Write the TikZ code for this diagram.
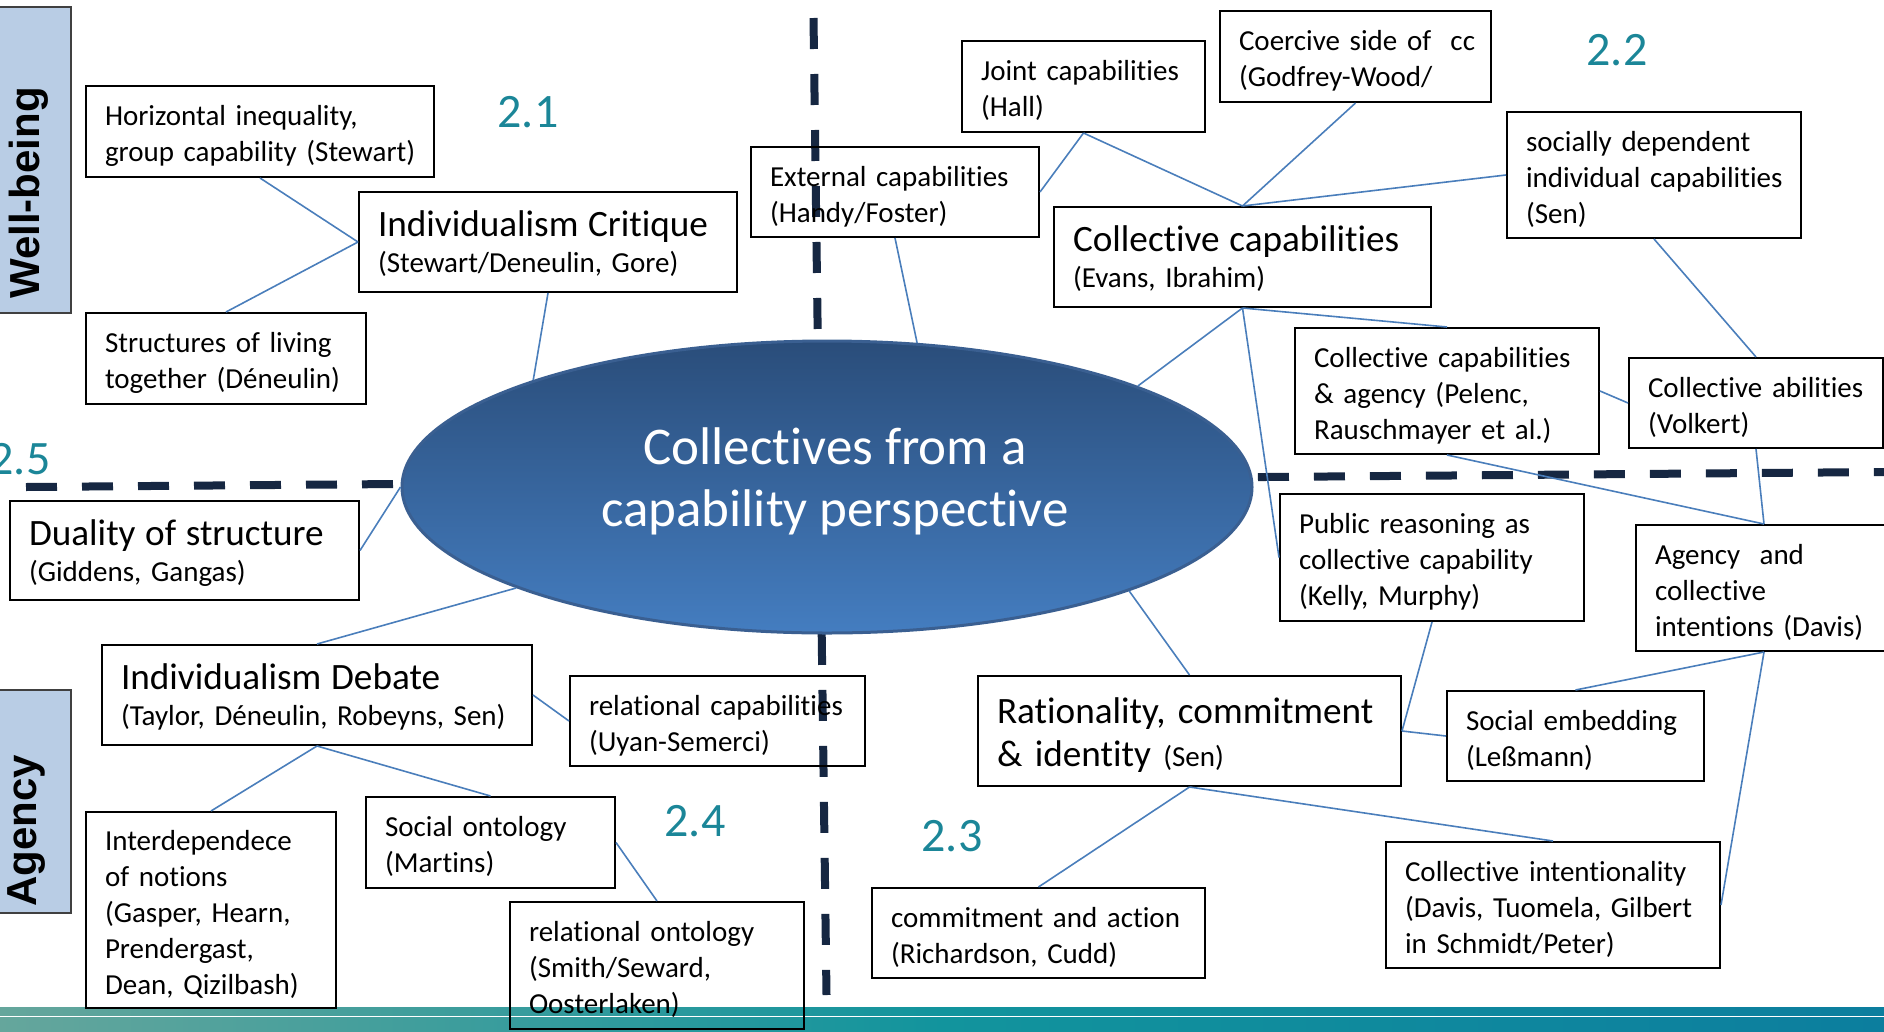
\documentclass[tikz,border=0pt]{standalone}
\usepackage{fontspec}
\setmainfont{Carlito}[Ligatures={TeX,NoCommon}]
\newfontfamily\lsans{Liberation Sans}
\usetikzlibrary{shapes.geometric}
\pgfdeclarelayer{bg}
\pgfsetlayers{bg,main}

\definecolor{linkc}{RGB}{74,126,187}
\definecolor{dashc}{RGB}{22,39,66}
\definecolor{labc}{RGB}{27,134,152}
\definecolor{ellTop}{RGB}{42,77,122}
\definecolor{ellBot}{RGB}{68,125,192}
\definecolor{ellBd}{RGB}{58,95,145}
\definecolor{sideFill}{RGB}{185,205,229}
\definecolor{sideBd}{RGB}{64,64,64}
\definecolor{stripeL}{RGB}{101,166,156}
\definecolor{stripeM}{RGB}{18,148,157}
\definecolor{stripeR}{RGB}{12,126,158}

\newcommand\bigt{\fontsize{37.2}{43}\selectfont}
\newcommand\smt{\fontsize{29}{36}\selectfont}
\newcommand\lns[1]{\raisebox{-5pt}[\height][\depth]{\begin{tabular}{@{}l@{}}#1\end{tabular}}}

\tikzset{
  box/.style={draw=black, line width=2pt, inner xsep=19pt, inner ysep=0pt, align=left, font=\smt},
  link/.style={draw=linkc, line width=1.6pt},
  sec/.style={text=labc, font=\fontsize{48}{50}\selectfont, inner sep=0pt},
  dashln/.style={draw=dashc, line width=8pt, dash pattern=on 31pt off 25pt},
  sidebox/.style={fill=sideFill, draw=sideBd, line width=2.5pt, inner sep=0pt},
  sidetext/.style={rotate=90, font=\lsans\bfseries\fontsize{42}{44}\selectfont, inner sep=0pt},
}

\begin{document}
\begin{tikzpicture}[x=1pt,y=-1pt]
\useasboundingbox (0,0) rectangle (1884,1031);
\clip (0,0) rectangle (1884,1031);

% side labels
\node[sidebox, minimum width=73pt, minimum height=306pt] (wb) at (34.5,160) {};
\node[sidetext] (wbt) at (29,193) {Well-being};
\node[sidebox, minimum width=73pt, minimum height=223pt] (agb) at (34.5,801.5) {};
\node[sidetext] (agt) at (27,831) {Agency};

% boxes
\node[box, minimum width=348pt, minimum height=91pt, text width=310pt] (hi) at (260,131.5)
  {\lns{Horizontal inequality,\\group capability (Stewart)}};
\node[box, minimum width=378pt, minimum height=100pt, text width=340pt] (ic) at (548,242)
  {\lns{{\bigt Individualism Critique}\\(Stewart/Deneulin, Gore)}};
\node[box, minimum width=280pt, minimum height=91pt, text width=242pt] (st) at (226,358.5)
  {\lns{Structures of living\\together (Déneulin)}};
\node[box, minimum width=288pt, minimum height=90pt, text width=250pt] (ec) at (895,192)
  {\lns{External capabilities\\(Handy/Foster)}};
\node[box, minimum width=243pt, minimum height=91pt, text width=205pt] (jc) at (1083.5,86.5)
  {\lns{Joint capabilities\\(Hall)}};
\node[box, minimum width=271pt, minimum height=91pt, text width=233pt] (co) at (1355.5,56.5)
  {\lns{Coercive side of~~cc\\(Godfrey-Wood/}};
\node[box, minimum width=294pt, minimum height=126pt, text width=256pt] (sd) at (1654,175)
  {\lns{socially dependent\\individual capabilities\\(Sen)}};
\node[box, minimum width=377pt, minimum height=100pt, text width=339pt] (cc) at (1242.5,257)
  {\lns{{\bigt Collective capabilities}\\(Evans, Ibrahim)}};
\node[box, minimum width=304pt, minimum height=126pt, text width=266pt] (cca) at (1447,391)
  {\lns{Collective capabilities\\\& agency (Pelenc,\\Rauschmayer et al.)}};
\node[box, minimum width=254pt, minimum height=90pt, text width=216pt] (ca) at (1756,403)
  {\lns{Collective abilities\\(Volkert)}};
\node[box, minimum width=304pt, minimum height=127pt, text width=266pt] (pr) at (1432,557.5)
  {\lns{Public reasoning as\\collective capability\\(Kelly, Murphy)}};
\node[box, minimum width=256pt, minimum height=126pt, text width=218pt] (ag) at (1764,588)
  {\lns{Agency~~and\\collective\\intentions (Davis)}};
\node[box, minimum width=349pt, minimum height=99pt, text width=311pt] (du) at (184.5,550.5)
  {\lns{{\bigt Duality of structure}\\(Giddens, Gangas)}};
\node[box, minimum width=430pt, minimum height=100pt, text width=392pt] (id) at (317,695)
  {\lns{{\bigt Individualism Debate}\\(Taylor, Déneulin, Robeyns, Sen)}};
\node[box, minimum width=295pt, minimum height=90pt, text width=257pt] (rc) at (717.5,721)
  {\lns{relational capabilities\\(Uyan-Semerci)}};
\node[box, minimum width=250pt, minimum height=196pt, text width=212pt] (in) at (211,910)
  {\lns{Interdependece\\of notions\\(Gasper, Hearn,\\Prendergast,\\Dean, Qizilbash)}};
\node[box, minimum width=249pt, minimum height=91pt, text width=211pt] (so) at (490.5,842.5)
  {\lns{Social ontology\\(Martins)}};
\node[box, minimum width=294pt, minimum height=127pt, text width=256pt] (ro) at (657,965.5)
  {\lns{relational ontology\\(Smith/Seward,\\Oosterlaken)}};
\node[box, font=\bigt, minimum width=423pt, minimum height=110pt, text width=385pt] (ra) at (1189.5,731)
  {\lns{Rationality, commitment\\\& identity {\smt (Sen)}}};
\node[box, minimum width=257pt, minimum height=90pt, text width=219pt] (se) at (1575.5,736)
  {\lns{Social embedding\\(Leßmann)}};
\node[box, minimum width=334pt, minimum height=126pt, text width=296pt] (ci) at (1553,905)
  {\lns{Collective intentionality\\(Davis, Tuomela, Gilbert\\in Schmidt/Peter)}};
\node[box, minimum width=333pt, minimum height=90pt, text width=295pt] (cm) at (1038.5,933)
  {\lns{commitment and action\\(Richardson, Cudd)}};

% section labels
\node[sec] (s21) at (528,112) {2.1};
\node[sec] (s22) at (1617,50) {2.2};
\node[sec] (s23) at (952,836) {2.3};
\node[sec] (s24) at (695,821) {2.4};
\node[sec] (s25) at (20,459) {2.5};

% background: stripe and dividers
\begin{pgfonlayer}{bg}
  \fill[left color=stripeL, right color=stripeR, middle color=stripeM] (0,1007.7) rectangle (1884,1015.7);
  \fill[left color=stripeL, right color=stripeR, middle color=stripeM] (0,1017.7) rectangle (1884,1031);
  \coordinate (hL) at (26,487);
  \coordinate (hR) at (1884,472);
  \coordinate (vT) at (813.5,18);
  \coordinate (vB) at (826.5,995);
  \draw[dashln] (hL) -- (hR);
  \draw[dashln] (vT) -- (vB);
\end{pgfonlayer}

% central ellipse
\node[ellipse, minimum width=850pt, minimum height=292pt, top color=ellTop, bottom color=ellBot,
      draw=ellBd, line width=3pt, inner sep=0pt] (ell) at (827,487) {};
\node[align=center, text=white, font=\fontsize{53}{62}\selectfont, inner sep=0pt] (ctext) at (835,481)
  {Collectives from a\\capability perspective};

% connectors
\draw[link] (hi.south) -- (ic.west);
\draw[link] (ic.west) -- (st.north);
\draw[link] (ic.south) -- (ell.160.9);
\draw[link] (jc.south) -- (ec.east);
\draw[link] (jc.south) -- (cc.north);
\draw[link] (co.south) -- (cc.north);
\draw[link] (sd.west) -- (cc.north);
\draw[link] (ec.south) -- (ell.58);
\draw[link] (cc.south) -- (ell.18.9);
\draw[link] (cc.south) -- (cca.north);
\draw[link] (cc.south) -- (pr.west);
\draw[link] (sd.south) -- (ca.north);
\draw[link] (cca.east) -- (ca.west);
\draw[link] (cca.south) -- (ag.north);
\draw[link] (ca.south) -- (ag.north);
\draw[link] (du.east) -- (ell.180);
\draw[link] (id.north) -- (ell.198.7);
\draw[link] (id.east) -- (rc.west);
\draw[link] (id.south) -- (in.north);
\draw[link] (id.south) -- (so.north);
\draw[link] (so.east) -- (ro.north);
\draw[link] (ell.-19) -- (ra.north);
\draw[link] (pr.south) -- (ra.east);
\draw[link] (ra.east) -- (se.west);
\draw[link] (ag.south) -- (se.north);
\draw[link] (ag.south) -- (ci.east);
\draw[link] (ra.south) -- (ci.north);
\draw[link] (ra.south) -- (cm.north);
\end{tikzpicture}
\end{document}
